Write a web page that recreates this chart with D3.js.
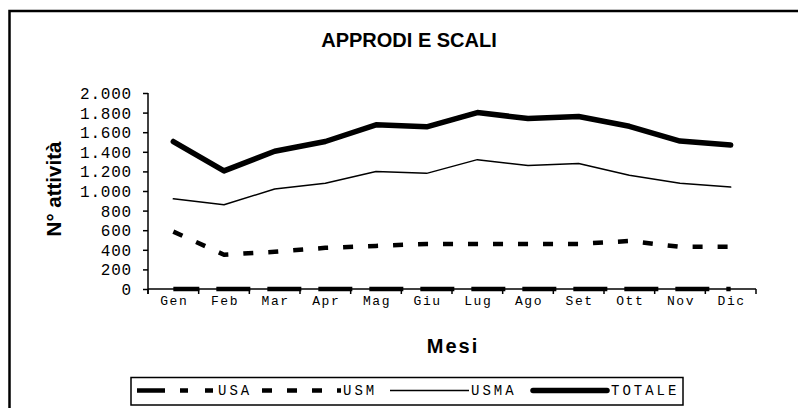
<!DOCTYPE html>
<html><head><meta charset="utf-8">
<script src="https://cdn.jsdelivr.net/npm/d3@7"></script>
<style>html,body{margin:0;padding:0;background:#fff;}svg{display:block;}</style>
</head><body>
<svg id="chart" width="798" height="408"></svg>
<script>
const months = ["Gen","Feb","Mar","Apr","Mag","Giu","Lug","Ago","Set","Ott","Nov","Dic"];
const usa    = [0,0,0,0,0,0,0,0,0,0,0,0];
const usm    = [585,350,380,420,440,460,460,460,460,490,430,430];
const usma   = [920,860,1020,1080,1200,1180,1320,1260,1280,1160,1080,1040];
const totale = [1505,1205,1405,1505,1675,1655,1800,1740,1760,1660,1510,1470];
const yTicks = [0,200,400,600,800,1000,1200,1400,1600,1800,2000];
const seriesNames = ["USA","USM","USMA","TOTALE"];
const legendLabels = ["USA","USM","USMA","TOTALE"];

const svg = d3.select("#chart");
const L = 148, R = 756, T = 93, B = 289;

// outer frame
svg.append("rect").attr("x",9.5).attr("y",11).attr("width",1000).attr("height",1000)
  .attr("fill","none").attr("stroke","#000").attr("stroke-width",2.5);

const x = d3.scaleBand().domain(months).range([L,R]);
const y = d3.scaleLinear().domain([0,2000]).range([B,T]);
const it = d3.formatLocale({decimal:",",thousands:".",grouping:[3],currency:["€",""]});
const fmt = it.format(",d");

// title
svg.append("text").attr("x",409).attr("y",46.5).attr("text-anchor","middle")
  .attr("font-family","'Liberation Sans',Arial,sans-serif").attr("font-weight","bold")
  .attr("font-size",20).text("APPRODI E SCALI");

// y axis
const yAxis = svg.append("g").attr("transform",`translate(${L},0)`)
  .call(d3.axisLeft(y).tickValues(yTicks).tickFormat(fmt).tickSize(5).tickPadding(11));
yAxis.select(".domain").attr("stroke","#000").attr("stroke-width",1.5).attr("d",`M0,${T}V${B+5}`);
yAxis.selectAll(".tick line").attr("stroke-width",1.5);
yAxis.selectAll(".tick text").attr("font-family","'Liberation Mono','Courier New',monospace")
  .attr("font-size",16).attr("letter-spacing",0.8).attr("fill","#000").attr("dy","0.34em");

// x axis (ticks at category boundaries)
const bounds = d3.range(months.length+1).map(i => L + i*x.step());
const xg = svg.append("g");
xg.append("line").attr("x1",L).attr("x2",R).attr("y1",B).attr("y2",B).attr("stroke","#000").attr("stroke-width",1.5);
xg.selectAll("line.tk").data(bounds).join("line").attr("class","tk")
  .attr("x1",d=>d).attr("x2",d=>d).attr("y1",B).attr("y2",B+5).attr("stroke","#000").attr("stroke-width",1.5);
xg.selectAll("text").data(months).join("text")
  .attr("x",d=>x(d)+x.bandwidth()/2+1).attr("y",304.5).attr("text-anchor","middle")
  .attr("font-family","'Liberation Mono','Courier New',monospace").attr("font-size",13)
  .attr("letter-spacing",1.6).text(d=>d);

// axis titles
svg.append("text").attr("transform","translate(61,189) rotate(-90)").attr("text-anchor","middle")
  .attr("font-family","'Liberation Sans',Arial,sans-serif").attr("font-weight","bold")
  .attr("font-size",20.5).text("N° attività");
svg.append("text").attr("x",453).attr("y",353).attr("text-anchor","middle")
  .attr("font-family","'Liberation Sans',Arial,sans-serif").attr("font-weight","bold")
  .attr("font-size",20).attr("letter-spacing",2).text("Mesi");

// series
const styles = {
  USA:   {w:4.5, dash:"34,17", off:8, cap:"butt"},
  USM:   {w:4.5, dash:"10,15", off:0, cap:"butt"},
  USMA:  {w:1.5, dash:null, off:0, cap:"round"},
  TOTALE:{w:5.5, dash:null, off:0, cap:"round"}
};
const data = {USA:usa, USM:usm, USMA:usma, TOTALE:totale};
const line = d3.line().x((d,i)=>x(months[i])+x.bandwidth()/2).y(d=>y(d));
["USMA","USM","TOTALE","USA"].forEach(k=>{
  const s = styles[k];
  svg.append("path").datum(data[k]).attr("d",line).attr("fill","none")
    .attr("stroke","#000").attr("stroke-width",s.w).attr("stroke-linecap",s.cap)
    .attr("stroke-linejoin","round")
    .attr("stroke-dasharray",s.dash).attr("stroke-dashoffset",s.off);
});

// legend
const lg = svg.append("g");
lg.append("rect").attr("x",131).attr("y",377.5).attr("width",552).attr("height",27.5)
  .attr("fill","#fff").attr("stroke","#000").attr("stroke-width",1.5);
const legDash = {USA:"28,15,8,17,8,40", USM:"10,15", USMA:null, TOTALE:null};
const legStart = [137, 262, 390, 530];
seriesNames.forEach((k,i)=>{
  const s = styles[k];
  const lx = legStart[i];
  lg.append("line").attr("x1",lx+(k==="TOTALE"?3:0)).attr("x2",lx+(k==="TOTALE"?77:79))
    .attr("y1",390.5).attr("y2",390.5)
    .attr("stroke","#000").attr("stroke-width",s.w).attr("stroke-linecap",k==="TOTALE"?"round":"butt")
    .attr("stroke-dasharray",legDash[k]);
  lg.append("text").attr("x",lx+81).attr("y",395)
    .attr("font-family","'Liberation Mono','Courier New',monospace").attr("font-size",14)
    .attr("letter-spacing",3).text(legendLabels[i]);
});
</script>
</body></html>
